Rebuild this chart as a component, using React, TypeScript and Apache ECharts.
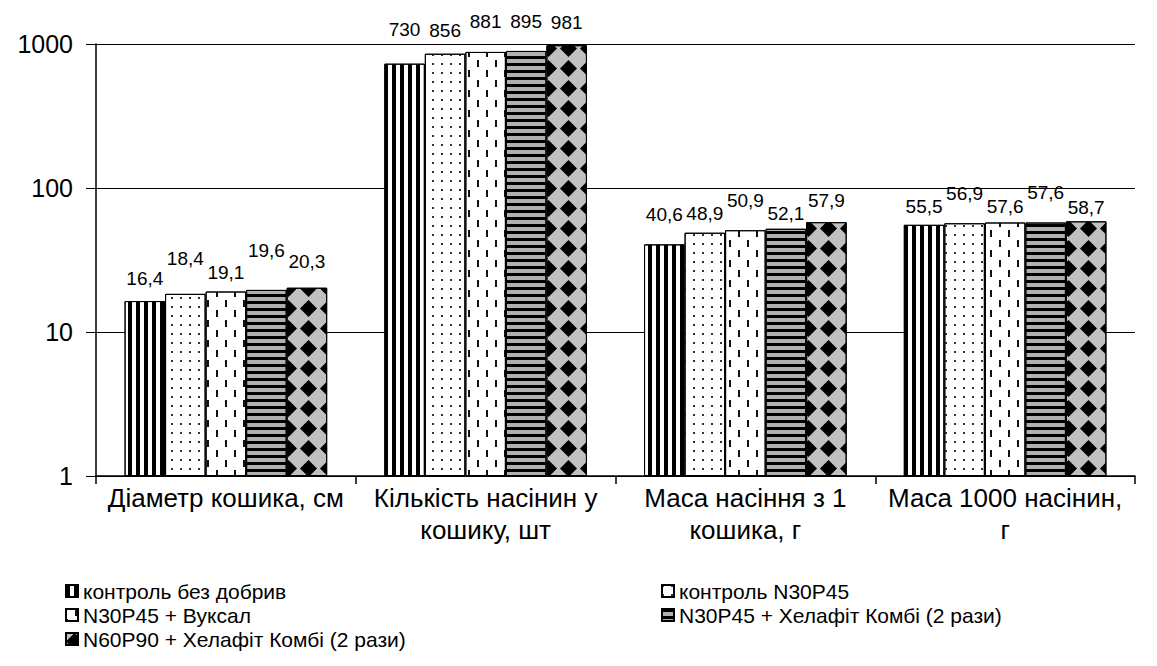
import React, { useEffect, useRef } from "react";
import * as echarts from "echarts";

const categories = [
  "Діаметр кошика, см",
  "Кількість насінин у\nкошику, шт",
  "Маса насіння з 1\nкошика, г",
  "Маса 1000 насінин,\nг",
];
const seriesNames = [
  "контроль без добрив",
  "контроль N30P45",
  "N30P45 + Вуксал",
  "N30P45 + Хелафіт Комбі (2 рази)",
  "N60P90 + Хелафіт Комбі (2 рази)",
];
const control = [16.4, 730, 40.6, 55.5];
const controlN30P45 = [18.4, 856, 48.9, 56.9];
const vuksal = [19.1, 881, 50.9, 57.6];
const chelafit = [19.6, 895, 52.1, 57.6];
const chelafit2 = [20.3, 981, 57.9, 58.7];
const seriesValues = [control, controlN30P45, vuksal, chelafit, chelafit2];
const yTicks = [1, 10, 100, 1000];

// label lift (px above bar top, to label centre) — layout only
const labelLift = [
  [23, 34, 30, 18],
  [35, 23, 19, 30],
  [19, 30, 30, 15.5],
  [39, 29, 15, 29.5],
  [26, 23, 22, 14],
];

const FONT = "'Liberation Sans', Arial, sans-serif";

const fills = ["#ffffff", "#ffffff", "#ffffff", "#b0b0b0", "#c0c0c0"];
const decals: any[] = [
  { symbol: "rect", symbolKeepAspect: false, symbolSize: 1, color: "#000", dashArrayX: [4, 4], dashArrayY: [1, 0] },
  { symbol: "rect", symbolKeepAspect: false, symbolSize: 1, color: "#333", dashArrayX: [2, 7], dashArrayY: [2, 7] },
  { symbol: "rect", symbolKeepAspect: false, symbolSize: 1, color: "#111", dashArrayX: [[2, 16], [0, 9, 2, 7]], dashArrayY: [7, 3] },
  { symbol: "rect", symbolKeepAspect: false, symbolSize: 1, color: "#000", dashArrayX: [1, 0], dashArrayY: [3, 3.5] },
  { symbol: "diamond", symbolKeepAspect: false, symbolSize: 1, color: "#000", dashArrayX: [17, 3], dashArrayY: [17, 3] },
];

const fmt = (v: number) => String(v).replace(".", ",");

export default function App() {
  const ref = useRef<HTMLDivElement>(null);
  useEffect(() => {
    if (!ref.current) return;
    const chart = echarts.init(ref.current, null, { renderer: "svg" });
    const series = seriesValues.map((vals, si) => ({
      name: seriesNames[si],
      type: "bar",
      barGap: "0%",
      barCategoryGap: "22%",
      itemStyle: {
        color: fills[si],
        borderColor: "#000",
        borderWidth: 1,
        decal: decals[si],
      },
      label: {
        show: true,
        position: "top",
        distance: 0,
        color: "#000",
        fontFamily: FONT,
        fontSize: 19,
        lineHeight: 20,
        formatter: (p: any) => fmt(p.value),
      },
      data: vals.map((v, ci) => ({
        value: v,
        label: { offset: [0, -(labelLift[si][ci] - 10)] },
      })),
    }));
    const legendText = { color: "#000", fontFamily: FONT, fontSize: 21, lineHeight: 22 };
    chart.setOption({
      animation: false,
      backgroundColor: "#fff",
      aria: { enabled: false, decal: { show: true } },
      grid: { left: 96, right: 22, top: 44, bottom: 190 },
      xAxis: {
        type: "category",
        data: categories,
        axisLine: { lineStyle: { color: "#000", width: 1.5 } },
        axisTick: { show: true, length: 8, lineStyle: { color: "#000", width: 1.5 } },
        axisLabel: {
          interval: 0,
          color: "#000",
          fontFamily: FONT,
          fontSize: 26,
          lineHeight: 32,
          margin: 6,
        },
      },
      yAxis: {
        type: "log",
        logBase: 10,
        min: yTicks[0],
        max: yTicks[yTicks.length - 1],
        axisLine: { show: true, lineStyle: { color: "#000", width: 1.5 } },
        axisTick: { show: true, length: 10, lineStyle: { color: "#000", width: 1 } },
        splitLine: { show: true, lineStyle: { color: "#000", width: 1.2 } },
        axisLabel: {
          color: "#000",
          fontFamily: FONT,
          fontSize: 25,
          margin: 23,
          formatter: (v: number) => String(v),
        },
      },
      legend: [
        {
          data: [seriesNames[0], seriesNames[2], seriesNames[4]],
          orient: "vertical",
          left: 60,
          top: 575,
          itemWidth: 12,
          itemHeight: 12,
          itemGap: 2,
          icon: "rect",
          textStyle: legendText,
        },
        {
          data: [seriesNames[1], seriesNames[3]],
          orient: "vertical",
          left: 656,
          top: 575,
          itemWidth: 12,
          itemHeight: 12,
          itemGap: 2,
          icon: "rect",
          textStyle: legendText,
        },
      ],
      series,
    });
    return () => chart.dispose();
  }, []);
  return <div ref={ref} style={{ width: 1157, height: 666, position: "absolute", left: 0, top: 0 }} />;
}
